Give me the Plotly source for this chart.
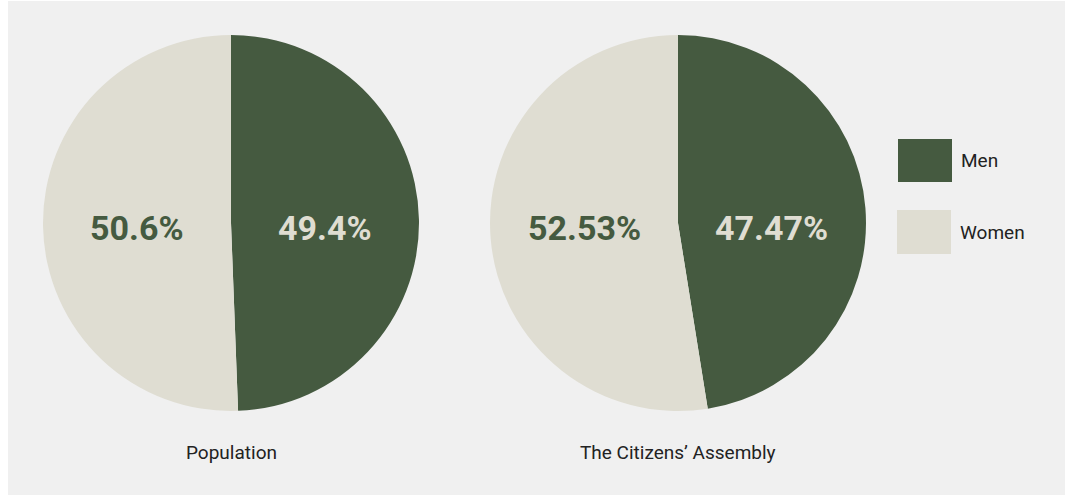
import math
import plotly.graph_objects as go

W, H = 1071, 495

# Gender split, in percent
groups = ["Men", "Women"]
population = [49.4, 50.6]
assembly = [47.47, 52.53]
chart_titles = ["Population", "The Citizens’ Assembly"]

men_color = "#455a40"
women_color = "#dfddd2"
panel_bg = "#f0f0f0"
colors = [men_color, women_color]
text_colors = [women_color, men_color]

def px(x0, x1):
    return [x0 / W, x1 / W]

def py(top, bottom):
    return [1 - bottom / H, 1 - top / H]

fig = go.Figure()

pie_top, pie_bottom = 35, 411
pie_boxes = [(42, 420), (489, 867)]
annotations = []

for vals, (x0, x1) in zip([population, assembly], pie_boxes):
    fig.add_trace(go.Pie(
        labels=groups,
        values=vals,
        sort=False,
        direction="clockwise",
        rotation=0,
        marker=dict(colors=colors, line=dict(width=0)),
        textinfo="none",
        hoverinfo="label+value",
        showlegend=False,
        domain=dict(x=px(x0, x1), y=py(pie_top, pie_bottom)),
    ))

    # Value labels: half a radius out along each slice's mid-angle, kept level
    cx = (x0 + x1) / 2
    cy = (pie_top + pie_bottom) / 2 + 5
    r = (pie_bottom - pie_top) / 2
    total = sum(vals)
    start = 0.0
    for v, tc in zip(vals, text_colors):
        mid = (start + v / 2) / total * 2 * math.pi
        start += v
        annotations.append(dict(
            text=f"<b>{v:g}%</b>", xref="paper", yref="paper",
            x=(cx + 0.5 * r * math.sin(mid)) / W, y=1 - cy / H,
            xanchor="center", yanchor="middle", showarrow=False,
            font=dict(family="Roboto", size=34, color=tc),
        ))

shapes = [
    dict(type="rect", xref="paper", yref="paper", layer="below",
         x0=8 / W, x1=1065 / W, y0=0, y1=1 - 1 / H,
         fillcolor=panel_bg, line=dict(width=0)),
]

for title, (x0, x1) in zip(chart_titles, pie_boxes):
    annotations.append(dict(
        text=title, xref="paper", yref="paper",
        x=(x0 + x1) / 2 / W, y=1 - 452 / H,
        xanchor="center", yanchor="middle", showarrow=False,
        font=dict(family="Roboto", size=19, color="#222222"),
    ))

# Custom legend with large swatches
legend_rows = [(898, 139, 182), (897, 210, 254)]
for name, col, (lx, top, bot) in zip(groups, colors, legend_rows):
    shapes.append(dict(
        type="rect", xref="paper", yref="paper",
        x0=lx / W, x1=(lx + 54) / W, y0=1 - bot / H, y1=1 - top / H,
        fillcolor=col, line=dict(width=0),
    ))
    annotations.append(dict(
        text=name, xref="paper", yref="paper",
        x=(lx + 61) / W, y=1 - (top + bot) / 2 / H,
        xanchor="left", yanchor="middle", showarrow=False,
        font=dict(family="Roboto", size=19, color="#222222"),
    ))

fig.update_layout(
    width=W, height=H,
    margin=dict(l=0, r=0, t=0, b=0),
    paper_bgcolor="white",
    shapes=shapes,
    annotations=annotations,
)

fig.write_html("out.html")
